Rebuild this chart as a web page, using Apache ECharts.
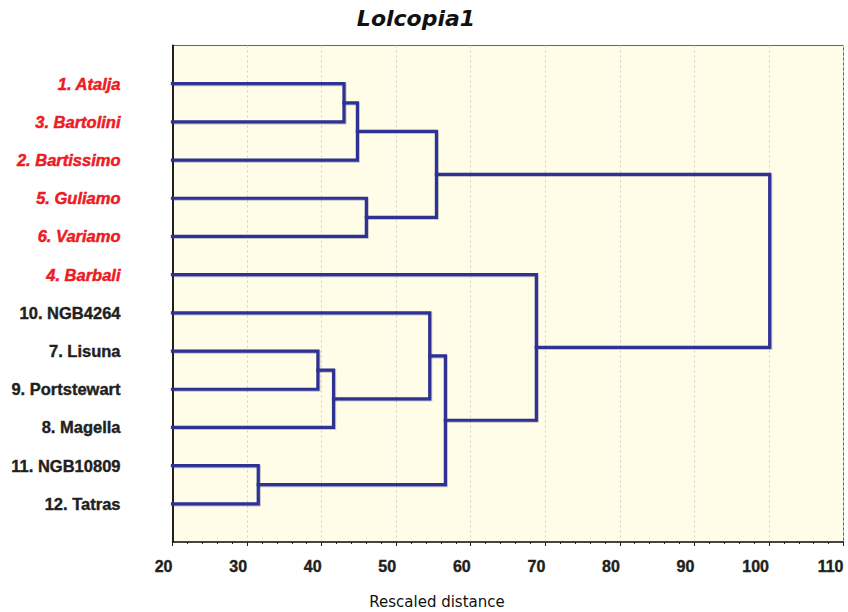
<!DOCTYPE html>
<html>
<head>
<meta charset="utf-8">
<script src="https://cdn.jsdelivr.net/npm/echarts@6/dist/echarts.min.js"></script>
<style>
html,body{margin:0;padding:0;background:#fff;}
#chart{width:848px;height:612px;}
</style>
</head>
<body>
<div id="chart"></div>
<script>
// Leaf order (top to bottom)
const leafNames = ['1. Atalja','3. Bartolini','2. Bartissimo','5. Guliamo','6. Variamo','4. Barbali',
                   '10. NGB4264','7. Lisuna','9. Portstewart','8. Magella','11. NGB10809','12. Tatras'];
// true = red (highlighted) labels
const leafHighlighted = [true,true,true,true,true,true,false,false,false,false,false,false];
// merges: [childA, childB]; leaves are 0..11, new clusters numbered 12, 13, ...
const mergeChildren = [[0,1],[12,2],[3,4],[13,14],[7,8],[16,9],[6,17],[10,11],[18,19],[5,20],[15,21]];
// merge heights (rescaled distance)
const mergeHeights = [43.0, 44.8, 46.0, 55.4, 39.5, 41.6, 54.5, 31.5, 56.6, 68.8, 100.1];
// x axis ticks
const xTicks = [20,30,40,50,60,70,80,90,100,110];

const xMin = xTicks[0], xMax = xTicks[xTicks.length-1];

// build node positions
const nodeY = leafNames.map((_, i) => i);
const nodeH = leafNames.map(() => xMin);
const series = [];
mergeChildren.forEach((pair, k) => {
  const [a, b] = pair;
  const h = mergeHeights[k];
  series.push({
    type: 'line',
    data: [[nodeH[a], nodeY[a]], [h, nodeY[a]], [h, nodeY[b]], [nodeH[b], nodeY[b]]],
    symbol: 'none',
    silent: true,
    animation: false,
    lineStyle: {
      color: '#2e3192', width: 3.2, cap: 'square', join: 'miter',
      shadowColor: 'rgba(40,40,110,0.35)', shadowBlur: 1.5, shadowOffsetX: 0.8, shadowOffsetY: 0.8
    }
  });
  nodeY.push((nodeY[a] + nodeY[b]) / 2);
  nodeH.push(h);
});

const chart = echarts.init(document.getElementById('chart'), null, {renderer: 'svg'});
chart.setOption({
  backgroundColor: '#ffffff',
  animation: false,
  title: [
    {text: 'Lolcopia1', left: 411, top: 2, textAlign: 'center',
     textStyle: {fontFamily: "'Comic Sans MS','DejaVu Sans',sans-serif", fontStyle: 'italic', fontWeight: 'bold', fontSize: 22, color: '#111'}},
    {text: 'Rescaled distance', left: 432, top: 589, textAlign: 'center',
     textStyle: {fontFamily: "'Comic Sans MS','DejaVu Sans',sans-serif", fontWeight: 'normal', fontSize: 15, color: '#111'}}
  ],
  grid: {left: 172.5, right: 4.5, top: 45.5, bottom: 70, show: true,
         backgroundColor: '#fffde8', borderColor: '#666', borderWidth: 1},
  xAxis: {
    type: 'value', min: xMin, max: xMax, interval: 10,
    axisLine: {show: true, onZero: false, lineStyle: {color: '#231f20', width: 1.5}},
    axisTick: {show: true, length: 4, lineStyle: {color: '#231f20', width: 1}},
    minorTick: {show: true, splitNumber: 5, length: 2, lineStyle: {color: '#231f20', width: 1}},
    splitLine: {show: true, lineStyle: {color: '#cfcfcf', type: [2, 3], width: 1}},
    axisLabel: {
      margin: 16, align: 'right', color: '#231f20', fontWeight: 'bold', fontSize: 16,
      fontFamily: "'Liberation Sans', Arial, sans-serif",
      textBorderColor: '#231f20', textBorderWidth: 0.4,
      formatter: v => xTicks.includes(v) ? String(v) : ''
    }
  },
  yAxis: {
    type: 'value', inverse: true, min: -1, max: leafNames.length, interval: 1,
    axisLine: {show: true, onZero: false, lineStyle: {color: '#231f20', width: 2}},
    axisTick: {show: false},
    splitLine: {show: false},
    axisLabel: {
      margin: 52, align: 'right', showMinLabel: true, showMaxLabel: true,
      formatter: v => {
        if (v < 0 || v >= leafNames.length) return '';
        return (leafHighlighted[v] ? '{r|' : '{b|') + leafNames[v] + '}';
      },
      rich: {
        r: {color: '#ed1c24', fontWeight: 'bold', fontStyle: 'italic', fontSize: 16.5,
            fontFamily: "'Liberation Sans', Arial, sans-serif", textBorderColor: '#ed1c24', textBorderWidth: 0.5},
        b: {color: '#231f20', fontWeight: 'bold', fontSize: 16.5,
            fontFamily: "'Liberation Sans', Arial, sans-serif", textBorderColor: '#231f20', textBorderWidth: 0.4}
      }
    }
  },
  series: series
});
</script>
</body>
</html>
